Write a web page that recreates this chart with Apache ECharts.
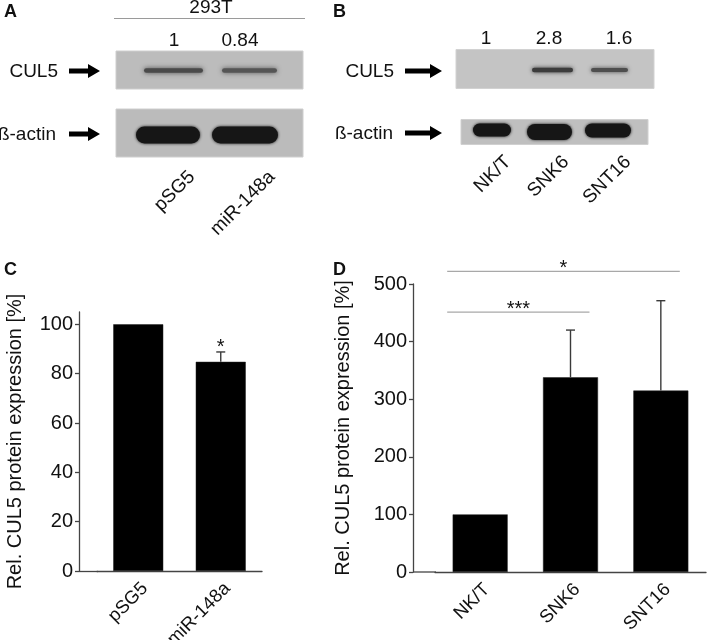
<!DOCTYPE html>
<html><head><meta charset="utf-8">
<script src="https://cdn.jsdelivr.net/npm/echarts@6/dist/echarts.min.js"></script>
<style>html,body{margin:0;padding:0;background:#fff}#c{width:709px;height:640px}</style>
</head><body><div id="c"></div>
<script>
// ---- Panel C data ----
const catsC = ['pSG5', 'miR-148a'];
const valsC = [100, 84.8];
const errC = [0, 4.0];
const sigC = ['', '*'];
const ticksC = [0, 20, 40, 60, 80, 100];
// ---- Panel D data ----
const catsD = ['NK/T', 'SNK6', 'SNT16'];
const valsD = [100, 338, 315];
const errD = [0, 82, 156];
const ticksD = [0, 100, 200, 300, 400, 500];
const bracketFrom = [0, 0];
const bracketTo = [1, 2];
const bracketLevel = [451, 522];
const bracketLabel = ['***', '*'];
// ---- Blot annotations ----
const lanesA = ['pSG5', 'miR-148a'];
const quantA = ['1', '0.84'];
const lanesB = ['NK/T', 'SNK6', 'SNT16'];
const quantB = ['1', '2.8', '1.6'];
const cellLineA = '293T';
const proteins = ['CUL5', 'ß-actin'];
const yName = 'Rel. CUL5 protein expression [%]';

const FF = "'Liberation Sans', Arial, Helvetica, sans-serif";
const FS = 19;
const AFS = 20;
const XFS = 18.5;
const AX = '#444';

const chart = echarts.init(document.getElementById('c'), null, {renderer: 'canvas'});

function txt(x, y, s, opt) {
  opt = opt || {};
  return {
    type: 'text', x: x, y: y, rotation: opt.rot || 0, z: 10,
    style: {
      text: s, x: 0, y: 0, fill: opt.fill || '#111',
      font: (opt.bold ? 'bold ' : '') + (opt.size || FS) + 'px ' + FF,
      align: opt.align || 'center', textAlign: opt.align || 'center',
      verticalAlign: opt.va || 'middle', textVerticalAlign: opt.va || 'middle'
    }
  };
}
function rect(x1, y1, x2, y2, fill, stroke) {
  return {
    type: 'rect', shape: {x: x1, y: y1, width: x2 - x1, height: y2 - y1},
    style: {fill: fill, stroke: stroke, lineWidth: 1}
  };
}
function band(x1, x2, cy, h, fill, blur) {
  return {
    type: 'rect', z: 5,
    shape: {x: x1, y: cy - h / 2, width: x2 - x1, height: h, r: h / 2},
    style: {fill: fill, shadowBlur: blur, shadowColor: fill}
  };
}
function arrow(x0, x1, y) {
  return {
    type: 'polygon', z: 5,
    shape: {points: [[x0, y - 2.5], [x1 - 12, y - 2.5], [x1 - 12, y - 7], [x1, y], [x1 - 12, y + 7], [x1 - 12, y + 2.5], [x0, y + 2.5]]},
    style: {fill: '#000'}
  };
}

const g = [];
// panel letters
g.push(txt(4, 12, 'A', {bold: true, size: 18, align: 'left'}));
g.push(txt(333, 12, 'B', {bold: true, size: 18, align: 'left'}));
g.push(txt(4, 270, 'C', {bold: true, size: 18, align: 'left'}));
g.push(txt(333, 270, 'D', {bold: true, size: 18, align: 'left'}));

// ---- Panel A blot ----
g.push(txt(211, 8, cellLineA));
g.push({type: 'line', shape: {x1: 114, y1: 18.5, x2: 305, y2: 18.5}, style: {stroke: '#9a9a9a', lineWidth: 1}});
const quantAX = [174, 240];
quantA.forEach((q, i) => g.push(txt(quantAX[i], 41, q)));
g.push(txt(58, 72, proteins[0], {align: 'right'}));
g.push(txt(56, 135, proteins[1], {align: 'right'}));
g.push(arrow(69, 100, 71));
g.push(arrow(69, 100, 134));
g.push(rect(116, 51, 303, 89, '#bcbcbc', '#cecece'));
g.push(rect(116, 109, 303, 157, '#bbbbbb', '#cecece'));
g.push(band(144, 203, 70.5, 4.5, '#4a4a4a', 5));
g.push(band(222, 277, 70.5, 4.5, '#555555', 5));
g.push(band(136, 200, 135, 17, '#161616', 3));
g.push(band(212, 278, 135, 17, '#161616', 3));
const laneAX = [192, 272];
lanesA.forEach((s, i) => g.push(txt(laneAX[i], 174, s, {align: 'right', rot: Math.PI / 4})));

// ---- Panel B blot ----
const quantBX = [486, 549, 619];
quantB.forEach((q, i) => g.push(txt(quantBX[i], 39, q)));
g.push(txt(394, 72, proteins[0], {align: 'right'}));
g.push(txt(393, 134, proteins[1], {align: 'right'}));
g.push(arrow(405, 442, 71));
g.push(arrow(405, 442, 133));
g.push(rect(456, 49.5, 654, 88.5, '#c4c4c4', '#d2d2d2'));
g.push(rect(461, 119.5, 648, 144.5, '#bfbfbf', '#d0d0d0'));
g.push(band(532, 573, 70, 4.5, '#3c3c3c', 4));
g.push(band(591, 628, 70, 4, '#4e4e4e', 4));
g.push(band(473, 511, 130, 13, '#161616', 3));
g.push(band(527, 572, 132, 16, '#161616', 3));
g.push(band(585, 631, 130.5, 14, '#161616', 3));
const laneBX = [508, 566, 628];
lanesB.forEach((s, i) => g.push(txt(laneBX[i], 159, s, {align: 'right', rot: Math.PI / 4})));

// x-axis stubs to the left of the first category
g.push({type: 'line', z: 5, shape: {x1: 79, y1: 571.5, x2: 98, y2: 571.5}, style: {stroke: AX, lineWidth: 1.3}});
g.push({type: 'line', z: 5, shape: {x1: 413, y1: 572, x2: 436, y2: 572}, style: {stroke: AX, lineWidth: 1.3}});

function errRenderer(errs, sigs) {
  return function (params, api) {
    const i = api.value(0), v = api.value(1), e = errs[params.dataIndex];
    const ch = [];
    const st = {stroke: '#3a3a3a', lineWidth: 1.4};
    if (e > 0) {
      const p0 = api.coord([i, v]), p1 = api.coord([i, v + e]);
      ch.push({type: 'line', shape: {x1: p0[0], y1: p0[1], x2: p1[0], y2: p1[1]}, style: st});
      ch.push({type: 'line', shape: {x1: p1[0] - 4.5, y1: p1[1], x2: p1[0] + 4.5, y2: p1[1]}, style: st});
    }
    const s = sigs ? sigs[params.dataIndex] : '';
    if (s) {
      const p = api.coord([i, v + e]);
      ch.push({type: 'text', style: {text: s, x: p[0], y: p[1] - 4, align: 'center', verticalAlign: 'middle', font: '20px ' + FF, fill: '#111'}});
    }
    return {type: 'group', children: ch};
  };
}

function bracketRenderer(params, api) {
  const a = api.value(0), b = api.value(1), y = api.value(2);
  const c0 = api.coord([a, y]), c1 = api.coord([b, y]);
  const bw = api.size([1, 0])[0];
  const x1 = c0[0] - 0.365 * bw, x2 = c1[0] + 0.21 * bw;
  return {type: 'group', children: [
    {type: 'line', shape: {x1: x1, y1: c0[1], x2: x2, y2: c0[1]}, style: {stroke: '#a8a8a8', lineWidth: 1.2}},
    {type: 'text', style: {text: bracketLabel[params.dataIndex], x: (x1 + x2) / 2, y: c0[1] - 3, align: 'center', verticalAlign: 'middle', font: '20px ' + FF, fill: '#111'}}
  ]};
}

const axisCommonY = {
  type: 'value', min: 0,
  axisLine: {show: true, lineStyle: {color: AX, width: 1.3}},
  axisTick: {show: true, length: 4, lineStyle: {color: AX, width: 1.3}},
  axisLabel: {color: '#111', fontSize: AFS, fontFamily: FF, margin: 6},
  splitLine: {show: false},
  name: yName, nameLocation: 'middle', nameRotate: 90,
  nameTextStyle: {color: '#111', fontSize: 20, fontFamily: FF}
};
const axisCommonX = {
  type: 'category',
  axisLine: {show: true, lineStyle: {color: AX, width: 1.3}},
  axisTick: {show: false},
  axisLabel: {color: '#111', fontSize: XFS, fontFamily: FF, rotate: 45, margin: 8, interval: 0,
    align: 'right', verticalAlign: 'top'}
};

chart.setOption({
  animation: false,
  backgroundColor: '#fff',
  grid: [
    {left: 97, right: 447, top: 312, bottom: 69, outerBoundsMode: 'none', containLabel: false},
    {left: 435, right: 3, top: 284, bottom: 68, outerBoundsMode: 'none', containLabel: false}
  ],
  xAxis: [
    Object.assign({}, axisCommonX, {gridIndex: 0, data: catsC}),
    Object.assign({}, axisCommonX, {gridIndex: 1, data: catsD})
  ],
  yAxis: [
    Object.assign({}, axisCommonY, {gridIndex: 0, max: 105, interval: 20, offset: 18, nameGap: 54,
      axisTick: Object.assign({}, axisCommonY.axisTick, {customValues: ticksC}),
      axisLabel: Object.assign({}, axisCommonY.axisLabel, {customValues: ticksC})}),
    Object.assign({}, axisCommonY, {gridIndex: 1, max: 500, interval: 100, offset: 22, nameGap: 60,
      axisTick: Object.assign({}, axisCommonY.axisTick, {customValues: ticksD}),
      axisLabel: Object.assign({}, axisCommonY.axisLabel, {customValues: ticksD})})
  ],
  series: [
    {type: 'bar', xAxisIndex: 0, yAxisIndex: 0, data: valsC, barWidth: 50,
      itemStyle: {color: '#000', borderColor: '#222', borderWidth: 0.5}},
    {type: 'custom', xAxisIndex: 0, yAxisIndex: 0, z: 5,
      data: catsC.map((c, i) => [i, valsC[i]]), encode: {x: 0, y: 1},
      renderItem: errRenderer(errC, sigC)},
    {type: 'bar', xAxisIndex: 1, yAxisIndex: 1, data: valsD, barWidth: 55,
      itemStyle: {color: '#000', borderColor: '#222', borderWidth: 0.5}},
    {type: 'custom', xAxisIndex: 1, yAxisIndex: 1, z: 5,
      data: catsD.map((c, i) => [i, valsD[i]]), encode: {x: 0, y: 1},
      renderItem: errRenderer(errD, null)},
    {type: 'custom', xAxisIndex: 1, yAxisIndex: 1, z: 5, clip: false,
      data: bracketFrom.map((f, i) => [f, bracketTo[i], bracketLevel[i]]), encode: {x: 0, y: 2},
      renderItem: bracketRenderer}
  ],
  graphic: g
});
</script></body></html>
